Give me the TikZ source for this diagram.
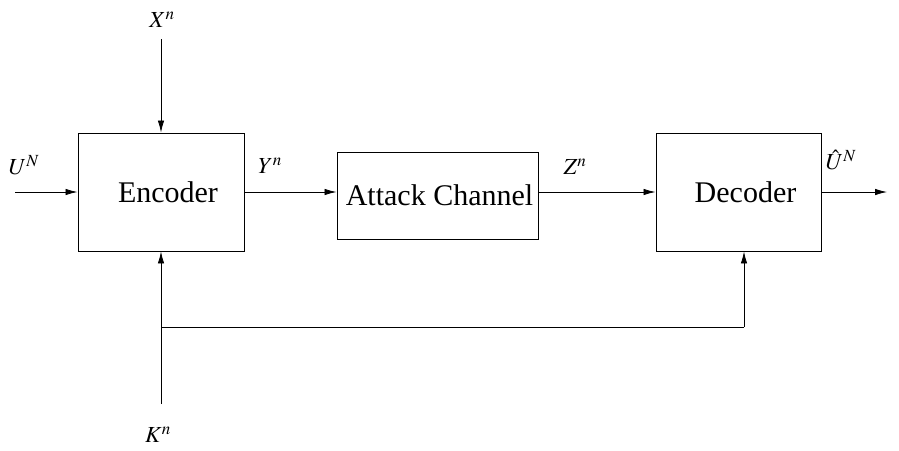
\documentclass[tikz,border=0pt]{standalone}
\usepackage{mathptmx}
\usepackage[no-math]{fontspec}
\setmainfont{Liberation Serif}
\usetikzlibrary{arrows.meta}
\tikzset{
  blk/.style={draw, line width=0.95pt, inner sep=0pt, font=\fontsize{30}{36}\selectfont},
  sig/.style={line width=0.8pt, -{Latex[length=12pt,width=6.5pt]}},
  wire/.style={line width=0.8pt},
  lbl/.style={inner sep=0pt, font=\fontsize{23}{27}\selectfont}
}
\begin{document}
\begin{tikzpicture}[x=1pt,y=-1pt]
  \useasboundingbox (0,0) rectangle (899,450);
  % processing blocks
  \node[blk, minimum width=166pt, minimum height=118pt] (enc) at (161,192) {\hspace*{14pt}Encoder};
  \node[blk, minimum width=201pt, minimum height=87pt] (att) at (437.5,195.5) {\hspace*{4pt}Attack Channel};
  \node[blk, minimum width=165pt, minimum height=118pt] (dec) at (738.5,192) {\hspace*{14pt}Decoder};
  % free ends of the signal lines
  \coordinate (uin) at (15,192);
  \coordinate (out) at (887,192);
  \coordinate (xin) at (161,39);
  \coordinate (kin) at (161,404);
  \coordinate (kbr) at (161,327);
  \coordinate (kcr) at (744,327);
  % signal flow
  \draw[sig] (uin) -- (uin -| enc.west);
  \draw[sig] (enc.east |- uin) -- (uin -| att.west);
  \draw[sig] (att.east |- uin) -- (uin -| dec.west);
  \draw[sig] (dec.east |- uin) -- (out);
  \draw[sig] (xin) -- (enc.north);
  \draw[sig] (kin) -- (enc.south);
  \draw[wire] (kbr) -- (kcr);
  \draw[sig] (kcr) -- (dec.south -| kcr);
  % signal labels
  \node[lbl] (lu) at (24,165) {$U^N$};
  \node[lbl] (ly) at (270,166) {$Y^n$};
  \node[lbl] (lz) at (575,167) {$Z^n$};
  \node[lbl] (luh) at (841,160) {$\hat{U}^N$};
  \node[lbl] (lx) at (162,20) {$X^n$};
  \node[lbl] (lk) at (158,435) {$K^n$};
\end{tikzpicture}
\end{document}
